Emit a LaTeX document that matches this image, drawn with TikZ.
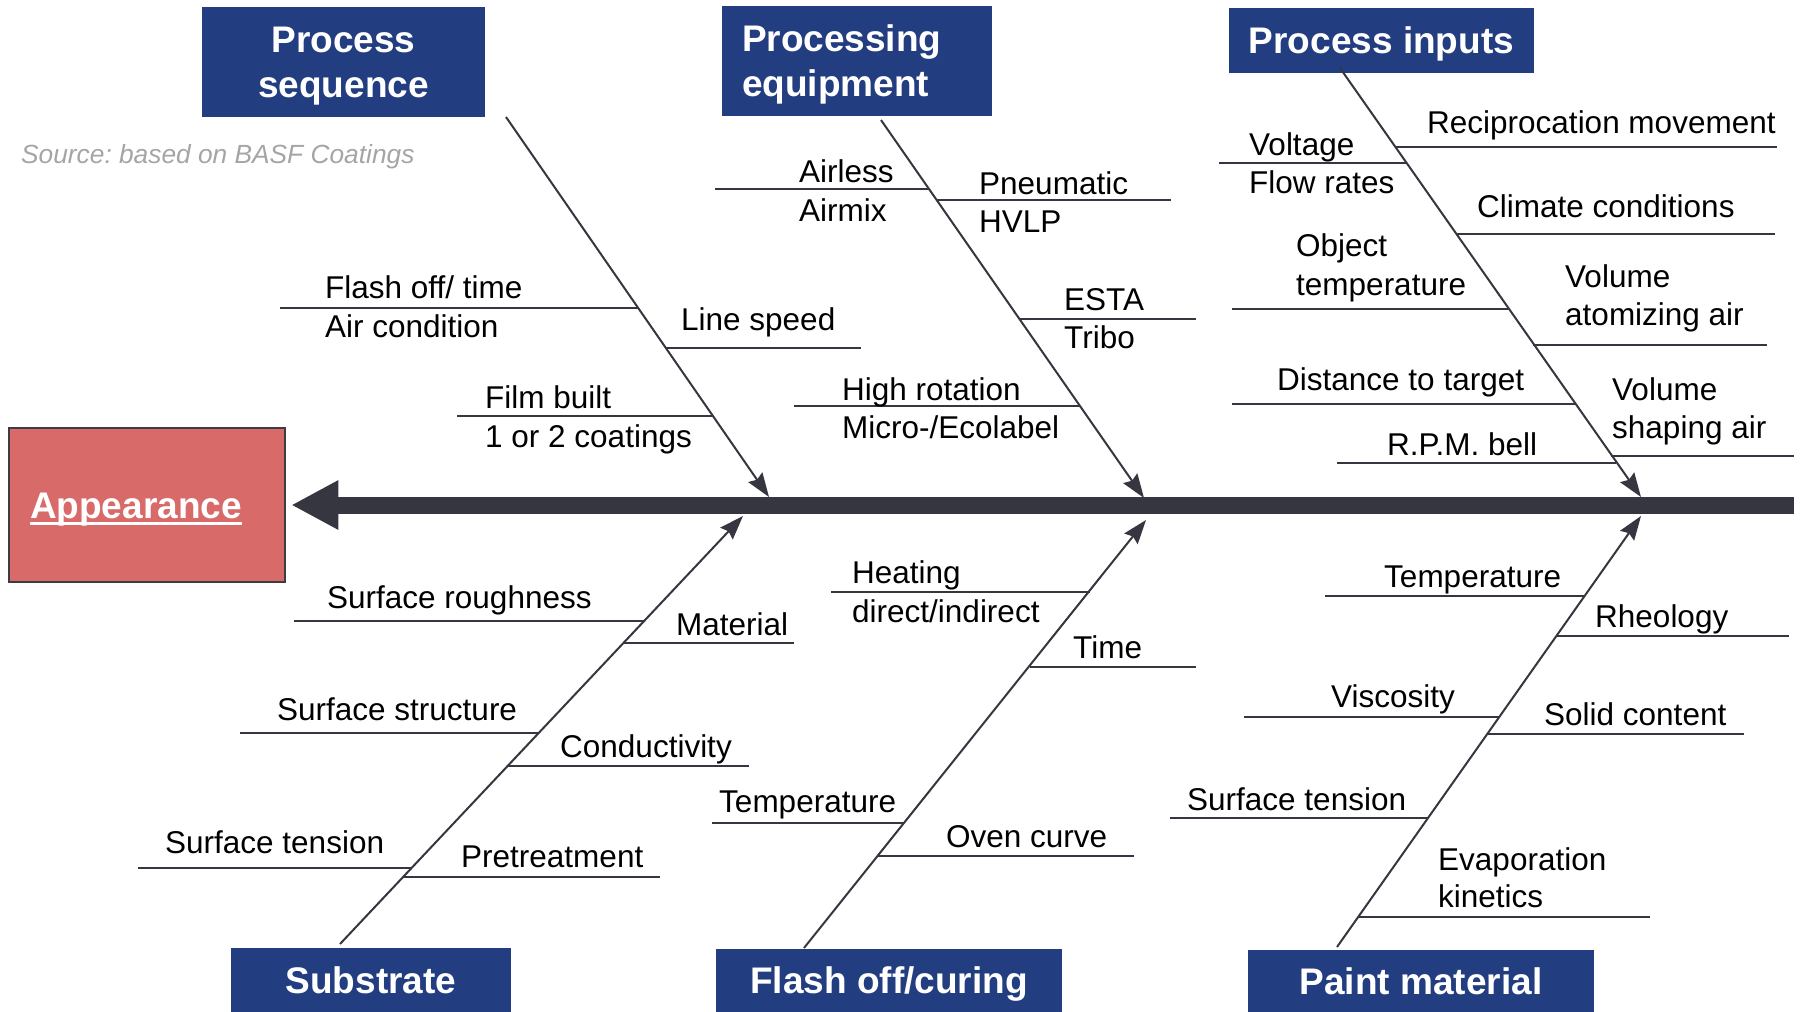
\documentclass[tikz,border=0pt]{standalone}
\usepackage{fontspec}
\setmainfont{Liberation Sans}
\usetikzlibrary{arrows.meta}
\definecolor{hdrblue}{RGB}{35,62,128}
\definecolor{appred}{RGB}{217,106,106}
\definecolor{boxborder}{RGB}{60,60,66}
\definecolor{bonegray}{RGB}{53,54,63}
\definecolor{srcgray}{RGB}{165,165,165}
\newcommand\appul[1]{\setbox0=\hbox{#1}\rlap{\rule[-7pt]{\wd0}{3pt}}\box0}
\frenchspacing
\begin{document}
\frenchspacing
\begin{tikzpicture}[x=1pt,y=-1pt,
  hdr/.style={fill=hdrblue, text=white, font=\fontsize{37}{45}\selectfont\bfseries, inner sep=0, text height=26pt, text depth=0pt},
  lbl/.style={anchor=base west, inner sep=0, font=\fontsize{31.5}{38}\selectfont},
  sub/.style={draw=bonegray, line width=2pt},
  bone/.style={draw=bonegray, line width=2pt, -{Stealth[length=24pt,width=17pt,inset=3pt]}},
  spine/.style={draw=bonegray, line width=17pt, -{Triangle[length=47pt,width=46pt]}},
]
\useasboundingbox (0,0) rectangle (1800,1012);

% effect box
\node[draw=boxborder, line width=2.5pt, fill=appred, minimum width=276pt, minimum height=154pt,
  inner sep=0, inner xsep=21pt, text width=234pt, align=left, text=white,
  text height=26pt, text depth=0pt,
  font=\fontsize{37}{45}\selectfont\bfseries] (app) at (147,505) {\appul{Appearance}};

% spine
\coordinate (spR) at (1794,505);
\draw[spine, shorten >=5pt] (spR) -- (app.east);

% category boxes
\node[hdr, minimum width=283pt, minimum height=110pt, align=center, text height=71pt, text depth=0pt] (hps) at (343.5,62) {Process\\sequence};
\node[hdr, minimum width=270pt, minimum height=110pt, text width=230pt, inner xsep=20pt, align=left, text height=26pt, text depth=45pt] (hpe) at (857,61) {Processing\\equipment};
\node[hdr, minimum width=305pt, minimum height=65pt] (hpi) at (1381.5,40.5) {Process inputs};
\node[hdr, minimum width=280pt, minimum height=64pt] (hsub) at (371,980) {Substrate};
\node[hdr, minimum width=346pt, minimum height=63pt] (hfc) at (889,980.5) {Flash off/curing};
\node[hdr, minimum width=346pt, minimum height=62pt] (hpm) at (1421,981) {Paint material};

\node[anchor=base west, inner sep=0, text=srcgray, font=\fontsize{26.3}{32}\selectfont\itshape] (src) at (21,163) {Source: based on BASF Coatings};

% bones
\coordinate (b1s) at (506,117);  \coordinate (b1t) at (769,497);
\coordinate (b2s) at (881,120);  \coordinate (b2t) at (1144,498);
\coordinate (b3s) at (1340,68);  \coordinate (b3t) at (1641,497);
\coordinate (b4s) at (340,944);  \coordinate (b4t) at (743,516);
\coordinate (b5s) at (804,948);  \coordinate (b5t) at (1146,520);
\coordinate (b6s) at (1337,947); \coordinate (b6t) at (1641,516);
\draw[bone] (b1s) -- (b1t);
\draw[bone] (b2s) -- (b2t);
\draw[bone] (b3s) -- (b3t);
\draw[bone] (b4s) -- (b4t);
\draw[bone] (b5s) -- (b5t);
\draw[bone] (b6s) -- (b6t);

% ribs: process sequence
\draw[sub] (280,308) -- (638,308);
\draw[sub] (666,348) -- (861,348);
\draw[sub] (457,416) -- (713,416);
\node[lbl] (t1) at (325,298) {Flash off/ time};
\node[lbl] (t2) at (325,337) {Air condition};
\node[lbl] (t3) at (681,330) {Line speed};
\node[lbl] (t4) at (485,408) {Film built};
\node[lbl] (t5) at (485,447) {1 or 2 coatings};

% ribs: processing equipment
\draw[sub] (715,189) -- (929,189);
\draw[sub] (937,200) -- (1171,200);
\draw[sub] (1019.5,319) -- (1196,319);
\draw[sub] (794,406) -- (1080,406);
\node[lbl] (t6) at (799,182) {Airless};
\node[lbl] (t7) at (799,221) {Airmix};
\node[lbl] (t8) at (979,194) {Pneumatic};
\node[lbl] (t9) at (979,232) {HVLP};
\node[lbl] (t10) at (1064,310) {ESTA};
\node[lbl] (t11) at (1064,348) {Tribo};
\node[lbl] (t12) at (842,400) {High rotation};
\node[lbl] (t13) at (842,438) {Micro-/Ecolabel};

% ribs: process inputs
\draw[sub] (1219,163) -- (1406,163);
\draw[sub] (1395,147) -- (1777,147);
\draw[sub] (1456,234) -- (1775,234);
\draw[sub] (1232,309) -- (1508,309);
\draw[sub] (1533,345) -- (1767,345);
\draw[sub] (1232,404) -- (1575,404);
\draw[sub] (1611,456) -- (1794,456);
\draw[sub] (1337,463) -- (1616,463);
\node[lbl] (t14) at (1249,155) {Voltage};
\node[lbl] (t15) at (1249,193) {Flow rates};
\node[lbl] (t16) at (1427,133) {Reciprocation movement};
\node[lbl] (t17) at (1477,217) {Climate conditions};
\node[lbl] (t18) at (1296,256) {Object};
\node[lbl] (t19) at (1296,295) {temperature};
\node[lbl] (t20) at (1565,287) {Volume};
\node[lbl] (t21) at (1565,325) {atomizing air};
\node[lbl] (t22) at (1277,390) {Distance to target};
\node[lbl] (t23) at (1612,400) {Volume};
\node[lbl] (t24) at (1612,438) {shaping air};
\node[lbl] (t25) at (1387,455) {R.P.M. bell};

% ribs: substrate
\draw[sub] (294,621) -- (644,621);
\draw[sub] (623,643) -- (794,643);
\draw[sub] (240,733) -- (539,733);
\draw[sub] (508,766) -- (749,766);
\draw[sub] (138,868) -- (412,868);
\draw[sub] (403,877) -- (660,877);
\node[lbl] (t26) at (327,608) {Surface roughness};
\node[lbl] (t27) at (676,635) {Material};
\node[lbl] (t28) at (277,720) {Surface structure};
\node[lbl] (t29) at (560,757) {Conductivity};
\node[lbl] (t30) at (165,853) {Surface tension};
\node[lbl] (t31) at (461,867) {Pretreatment};

% ribs: flash off / curing
\draw[sub] (831,592) -- (1090,592);
\draw[sub] (1030,667) -- (1196,667);
\draw[sub] (712,823) -- (904,823);
\draw[sub] (878,856) -- (1134,856);
\node[lbl] (t32) at (852,583) {Heating};
\node[lbl] (t33) at (852,622) {direct/indirect};
\node[lbl] (t34) at (1073,658) {Time};
\node[lbl] (t35) at (719,812) {Temperature};
\node[lbl] (t36) at (946,847) {Oven curve};

% ribs: paint material
\draw[sub] (1325,596) -- (1585,596);
\draw[sub] (1557,636) -- (1789,636);
\draw[sub] (1244,717) -- (1500,717);
\draw[sub] (1488,734) -- (1744,734);
\draw[sub] (1170,818) -- (1428,818);
\draw[sub] (1358,917) -- (1650,917);
\node[lbl] (t37) at (1384,587) {Temperature};
\node[lbl] (t38) at (1595,627) {Rheology};
\node[lbl] (t39) at (1331,707) {Viscosity};
\node[lbl] (t40) at (1544,725) {Solid content};
\node[lbl] (t41) at (1187,810) {Surface tension};
\node[lbl] (t42) at (1438,870) {Evaporation};
\node[lbl] (t43) at (1438,907) {kinetics};
\end{tikzpicture}
\end{document}
